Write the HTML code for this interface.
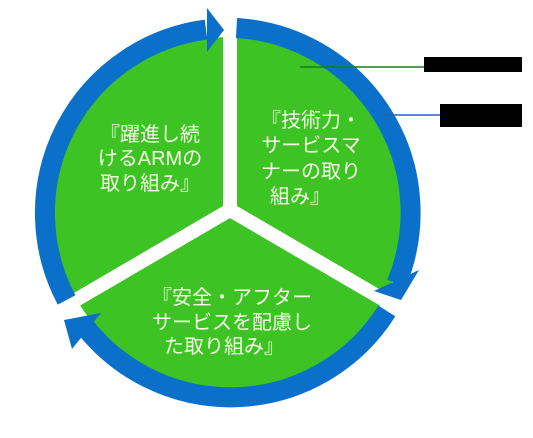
<!DOCTYPE html>
<html><head><meta charset="utf-8"><style>
html,body{margin:0;padding:0;background:#fff;}
svg{display:block}
text{font-family:"Liberation Sans","Noto Sans CJK JP",sans-serif;font-size:20px;fill:#f4ffe6;text-anchor:middle}
</style></head><body>
<svg width="533" height="438" viewBox="0 0 533 438" xmlns="http://www.w3.org/2000/svg">
<circle cx="230" cy="213" r="176" fill="#3dc324"/>
<!-- gaps -->
<g stroke="#fff" stroke-width="14" fill="none">
<line x1="230" y1="210" x2="230" y2="0"/>
<line x1="230" y1="210" x2="50" y2="315"/>
<line x1="230" y1="210" x2="410" y2="315"/>
</g>
<g fill="none" stroke="#0b70c9" stroke-width="20">
<!-- left arc: 242deg -> 355deg -->
<path d="M 66.6 299.9 A 185 185 0 0 1 206.0 29.6"/>
<!-- right arc: 2deg -> 112deg -->
<path d="M 236.5 28.0 A 185 185 0 0 1 396.5 283.5"/>
<!-- bottom arc: 122deg -> 232deg -->
<path d="M 386.9 311.0 A 185 185 0 0 1 85.2 326.9"/>
</g>
<g fill="#0b70c9">
<polygon points="207,8 207,52 224,30"/>
<polygon points="374,291 419,270 401,300"/>
<polygon points="101,313 72,349 64,320"/>
</g>
<line x1="300" y1="67" x2="424" y2="67" stroke="#1a7a1a" stroke-width="1.5"/>
<rect x="424" y="57" width="98" height="15" fill="#000"/>
<line x1="383" y1="115" x2="440" y2="115" stroke="#2a5fc0" stroke-width="1.5"/>
<rect x="440" y="104" width="82" height="23" fill="#000"/>
<text x="150" y="141">『躍進し続</text>
<text x="150" y="165">けるARMの</text>
<text x="150" y="190">取り組み』</text>
<text x="311" y="127">『技術力・</text>
<text x="311" y="152">サービスマ</text>
<text x="311" y="178">ナーの取り</text>
<text x="300" y="203">組み』</text>
<text x="232" y="304">『安全・アフター</text>
<text x="232" y="329">サービスを配慮し</text>
<text x="224" y="353">た取り組み』</text>
</svg>
</body></html>
